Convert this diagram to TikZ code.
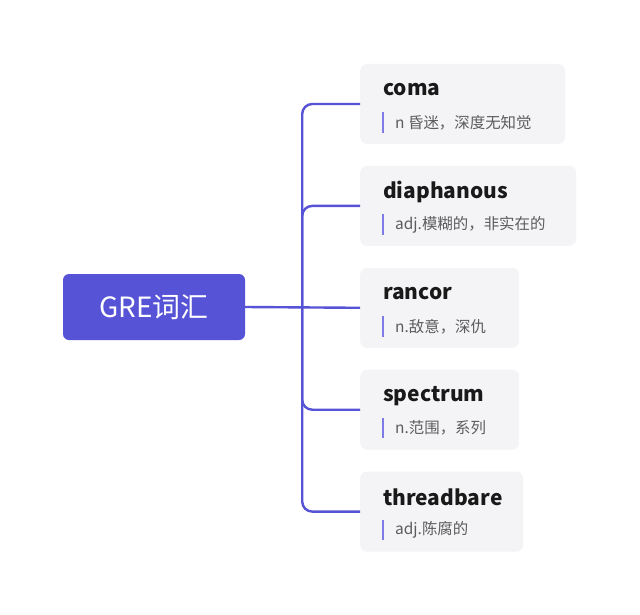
\documentclass[tikz,border=0pt]{standalone}
\usepackage{fontspec}
\setmainfont{Noto Sans CJK SC}
\usetikzlibrary{positioning}

\definecolor{grefill}{HTML}{5753D6}
\definecolor{barline}{HTML}{7F7BE6}
\definecolor{cardgray}{HTML}{F4F4F7}
\definecolor{meangray}{HTML}{5C5C5C}

\begin{document}
\begin{tikzpicture}[x=1bp,y=-1bp,
                    branch/.style={draw=grefill, line width=2.4bp, rounded corners=10bp}]

  \tikzstyle{root}    = [fill=grefill, text=white, rounded corners=6bp, minimum width=182bp,
                         minimum height=66bp, font=\fontsize{28}{32}\selectfont]
  \tikzstyle{card}    = [fill=cardgray, rounded corners=7bp, minimum height=80bp, inner sep=0pt]
  \tikzstyle{word}    = [font=\fontsize{21}{25}\selectfont\bfseries, text=black!90, inner sep=0pt]
  \tikzstyle{meaning} = [font=\fontsize{15.5}{19}\selectfont, text=meangray, inner sep=0pt,
                         minimum height=20bp,
                         append after command={([xshift=-12bp]\tikzlastnode.north west)
                           edge[draw=barline, line width=2.8bp] ([xshift=-12bp]\tikzlastnode.south west)}]

  \useasboundingbox[fill=white] (0,0) rectangle (640,615);

  \node[root] (gre) at (154,307) {GRE词汇};

  \node[card, minimum width=205bp, anchor=west] (coma) at (360,104) {};
  \node[card, minimum width=216bp, below=21.5bp of coma.south west, anchor=north west] (diaph) {};
  \node[card, minimum width=159bp, below=21.5bp of diaph.south west, anchor=north west] (rancor) {};
  \node[card, minimum width=159bp, below=21.5bp of rancor.south west, anchor=north west] (spec) {};
  \node[card, minimum width=163bp, below=21.5bp of spec.south west, anchor=north west] (thread) {};

  % words and meanings
  \foreach \c/\w/\m in {coma/coma/n 昏迷，深度无知觉,
                        diaph/diaphanous/adj.模糊的，非实在的,
                        rancor/rancor/n.敌意，深仇,
                        spec/spectrum/n.范围，系列,
                        thread/threadbare/adj.陈腐的} {
    \node[word, right=23bp of \c.west, yshift=14bp] (\c-w) {\w};
    \node[meaning, right=35bp of \c.west, yshift=-18.5bp] (\c-m) {\m};
  }

  \coordinate[right=57bp of gre.east] (fork);

  \draw[branch] (gre.east) -- (rancor.west);
  \draw[branch] (fork) |- (coma.west);
  \draw[branch] (fork) |- (diaph.west);
  \draw[branch] (fork) |- (spec.west);
  \draw[branch] (fork) |- (thread.west);

\end{tikzpicture}
\end{document}
